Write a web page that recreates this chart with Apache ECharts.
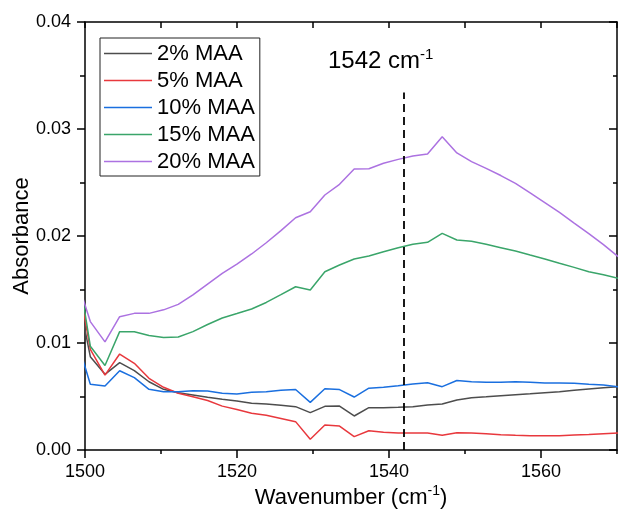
<!DOCTYPE html>
<html>
<head>
<meta charset="utf-8">
<script src="https://cdn.jsdelivr.net/npm/echarts@6/dist/echarts.min.js"></script>
<style>html,body{margin:0;padding:0;background:#fff;}#c{width:618px;height:519px;}</style>
</head>
<body>
<div id="c"></div>
<script>
// Wavenumber grid (cm-1)
const wavenumber = [1498.77,1500.70,1502.63,1504.56,1506.49,1508.42,1510.34,1512.27,1514.20,1516.13,1518.06,1519.99,1521.92,1523.85,1525.78,1527.71,1529.64,1531.56,1533.49,1535.42,1537.35,1539.28,1541.21,1543.14,1545.07,1547.00,1548.93,1550.86,1552.78,1554.71,1556.64,1558.57,1560.50,1562.43,1564.36,1566.29,1568.22,1570.15];

const seriesNames = ['2% MAA','5% MAA','10% MAA','15% MAA','20% MAA'];

const maa2 = [0.0156,0.00872,0.00707,0.00816,0.00741,0.00638,0.00567,0.00536,0.00514,0.00492,0.00474,0.00458,0.00436,0.0043,0.00418,0.00405,0.00349,0.00408,0.00411,0.00318,0.00396,0.00396,0.00399,0.00405,0.00421,0.0043,0.00467,0.00489,0.00498,0.00508,0.00517,0.00526,0.00536,0.00545,0.00558,0.0057,0.00582,0.00592];
const maa5 = [0.0171,0.0094,0.0070,0.00897,0.0081,0.0067,0.00586,0.0053,0.00498,0.00462,0.0041,0.00378,0.00343,0.00325,0.00295,0.00265,0.0010,0.00234,0.00224,0.00125,0.0018,0.00165,0.00159,0.00159,0.00159,0.00137,0.00162,0.00159,0.00153,0.00143,0.00137,0.00134,0.00134,0.00134,0.0014,0.00146,0.00153,0.00159];
const maa10 = [0.0107,0.00614,0.00598,0.00741,0.00676,0.00567,0.00545,0.00545,0.00554,0.00551,0.0053,0.00523,0.00539,0.00545,0.00558,0.00565,0.00445,0.00572,0.00565,0.00495,0.00578,0.00586,0.00601,0.00617,0.00629,0.00592,0.0065,0.00638,0.00633,0.00633,0.00638,0.00633,0.00626,0.00626,0.00623,0.00614,0.00607,0.00592];
const maa15 = [0.0182,0.0097,0.0079,0.01106,0.01106,0.0107,0.01051,0.01056,0.01106,0.01173,0.01234,0.01275,0.01318,0.01379,0.01452,0.01526,0.01495,0.01666,0.01729,0.01785,0.01813,0.01853,0.01891,0.01922,0.01941,0.02025,0.01963,0.0195,0.01922,0.01891,0.0186,0.01822,0.01785,0.01745,0.01707,0.01666,0.01638,0.01604];
const maa20 = [0.0163,0.0120,0.0101,0.01246,0.01277,0.01277,0.0131,0.01361,0.01449,0.01551,0.01651,0.01738,0.01832,0.01937,0.0205,0.02171,0.02227,0.02383,0.02483,0.02626,0.02629,0.0268,0.02716,0.02748,0.02766,0.02928,0.02776,0.02695,0.02632,0.02565,0.02491,0.02402,0.02313,0.0222,0.02121,0.02023,0.0192,0.01807];

const xTicks = [1500, 1520, 1540, 1560];
const yTicks = [0.00, 0.01, 0.02, 0.03, 0.04];
const markerX = 1542;      // cm-1 reference line
const markerTop = 0.0334;  // top of dashed line (absorbance)
const markerLabel = '1542 cm';

const colors = ['#4d4d4d','#e8383d','#1a6fdf','#3aa56a','#ac72e1'];
const values = [maa2, maa5, maa10, maa15, maa20];
const FONT = 'Liberation Sans, Arial, sans-serif';

const series = values.map((v, i) => ({
  name: seriesNames[i],
  type: 'line',
  xAxisIndex: 0, yAxisIndex: 0,
  data: wavenumber.map((x, j) => [x, v[j]]),
  showSymbol: false, symbol: 'none',
  lineStyle: { width: 1.5, color: colors[i] },
  itemStyle: { color: colors[i] },
  clip: true,
  z: 3,
  markLine: i === 0 ? {
    silent: true, symbol: 'none', animation: false,
    label: { show: false },
    lineStyle: { color: '#000', width: 1.8, type: [8, 5] },
    data: [[{ coord: [markerX, 0] }, { coord: [markerX, markerTop] }]]
  } : undefined
}));

const xMin = 1500, xMax = 1570, yMin = 0, yMax = 0.04;
const axisLine = { show: true, onZero: false, lineStyle: { color: '#000', width: 1.5 } };
const noLine = { show: false };

const chart = echarts.init(document.getElementById('c'), null, { renderer: 'canvas' });
chart.setOption({
  animation: false,
  backgroundColor: '#fff',
  grid: { left: 85, right: 1, top: 22, bottom: 69, containLabel: false, outerBoundsMode: 'none' },
  legend: {
    orient: 'vertical', left: 100, top: 38,
    icon: 'rect',
    itemWidth: 48, itemHeight: 1.5, itemGap: 0,
    padding: [2, 5, 1, 4],
    borderColor: '#222', borderWidth: 1,
    textStyle: { fontSize: 22, lineHeight: 27, color: '#000', fontFamily: FONT },
    data: seriesNames
  },
  xAxis: [
    { type: 'value', position: 'bottom', min: xMin, max: xMax, interval: 20,
      name: '{a|Wavenumber (cm}{s|-1}{a|)}', nameLocation: 'middle', nameGap: 34,
      nameMoveOverlap: false,
      nameTextStyle: { rich: {
        a: { fontSize: 22, fontFamily: FONT, color: '#000', lineHeight: 28 },
        s: { fontSize: 14, fontFamily: FONT, color: '#000', lineHeight: 14, verticalAlign: 'top' } } },
      axisLine: axisLine, splitLine: { show: false },
      axisTick: { show: true, length: 8, lineStyle: { color: '#000', width: 1.5 } },
      axisLabel: { fontSize: 18, color: '#000', fontFamily: FONT, margin: 13, showMaxLabel: false,
        formatter: v => xTicks.includes(v) ? String(v) : '' } },
    { type: 'value', position: 'bottom', min: xMin, max: xMax, interval: 10,
      axisLine: noLine, splitLine: { show: false }, axisLabel: { show: false },
      axisTick: { show: true, length: 4, lineStyle: { color: '#000', width: 1.5 } } },
    { type: 'value', position: 'top', min: xMin, max: xMax, interval: 10,
      axisLine: axisLine, splitLine: { show: false }, axisLabel: { show: false },
      axisTick: { show: true, inside: true, length: 6, lineStyle: { color: '#000', width: 1.5 } } }
  ],
  yAxis: [
    { type: 'value', position: 'left', min: yMin, max: yMax, interval: 0.01,
      name: 'Absorbance', nameLocation: 'middle', nameGap: 52, nameRotate: 90,
      nameMoveOverlap: false,
      nameTextStyle: { fontSize: 22, fontFamily: FONT, color: '#000' },
      axisLine: axisLine, splitLine: { show: false },
      axisTick: { show: true, length: 8, lineStyle: { color: '#000', width: 1.5 } },
      axisLabel: { fontSize: 18, color: '#000', fontFamily: FONT, margin: 14,
        formatter: v => v.toFixed(2) } },
    { type: 'value', position: 'left', min: yMin, max: yMax, interval: 0.005,
      axisLine: noLine, splitLine: { show: false }, axisLabel: { show: false },
      axisTick: { show: true, length: 5, lineStyle: { color: '#000', width: 1.5 } } },
    { type: 'value', position: 'right', min: yMin, max: yMax, interval: 0.01,
      axisLine: axisLine, splitLine: { show: false }, axisLabel: { show: false },
      axisTick: { show: true, inside: true, length: 8, lineStyle: { color: '#000', width: 1.5 } } },
    { type: 'value', position: 'right', min: yMin, max: yMax, interval: 0.005,
      axisLine: noLine, splitLine: { show: false }, axisLabel: { show: false },
      axisTick: { show: true, inside: true, length: 4, lineStyle: { color: '#000', width: 1.5 } } }
  ],
  graphic: [{
    type: 'text', left: 328, top: 47, z: 10,
    style: {
      text: '{a|' + markerLabel + '}{s|-1}',
      rich: {
        a: { fontSize: 24, fontFamily: FONT, fill: '#000', lineHeight: 28 },
        s: { fontSize: 15, fontFamily: FONT, fill: '#000', lineHeight: 15, verticalAlign: 'top' }
      }
    }
  }],
  series: series
});
</script>
</body>
</html>
